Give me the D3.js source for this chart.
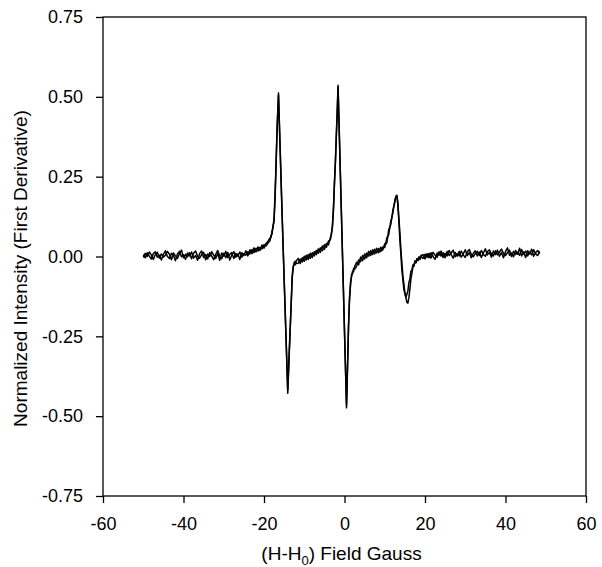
<!DOCTYPE html>
<html>
<head>
<meta charset="utf-8">
<script src="https://cdn.jsdelivr.net/npm/d3@7"></script>
<style>
body { margin: 0; background: #fff; }
svg text { font-family: "Liberation Sans", Arial, Helvetica, sans-serif; fill: #000; }
</style>
</head>
<body>
<div id="chart"></div>
<script>
//////////////////////////////////////////////////////////////////////////////
// Data (field in Gauss, two overlaid traces)

var field = [
    -50,-49.5,-49,-48.5,-48,-47.5,-47,-46.5,-46,-45.5,
    -45,-44.5,-44,-43.5,-43,-42.5,-42,-41.5,-41,-40.5,
    -40,-39.5,-39,-38.5,-38,-37.5,-37,-36.5,-36,-35.5,
    -35,-34.5,-34,-33.5,-33,-32.5,-32,-31.5,-31,-30.5,
    -30,-29.5,-29,-28.5,-28,-27.5,-27,-26.5,-26,-25.5,
    -25,-24.5,-24,-23.5,-23,-22.5,-22,-21.5,-21,-20.5,
    -20,-19.5,-19,
    // low field line
    -18.5,-18.25,-18,-17.75,-17.5,-17.25,-17,-16.75,-16.4,-16,-15.5,-15,-14.5,-14.1,
    -13.75,-13.5,-13.25,-13,-12.75,-12.5,-12.25,-12,
    -11.5,-11,-10.5,-10,-9.5,-9,-8.5,-8,-7.5,-7,-6.5,-6,-5.5,-5,-4.5,-4,
    // centre line
    -3.5,-3.25,-3,-2.75,-2.5,-2.25,-2,-1.8,-1.6,-1.25,-1,-0.75,-0.5,-0.25,0,
    0.25,0.5,0.75,1,1.25,1.5,1.75,2,2.25,2.5,
    3,3.5,4,4.5,5,5.5,6,6.5,7,7.5,8,8.5,9,9.5,
    // high field line
    10,10.25,10.5,10.75,11,11.25,11.5,11.75,12,12.25,12.5,12.75,13,13.25,13.5,13.75,
    14,14.25,14.5,14.75,15,15.25,15.5,15.75,16,16.25,16.5,16.75,17,17.25,17.5,17.75,
    18,18.25,18.5,18.75,19,
    19.5,20,20.5,21,21.5,22,22.5,23,23.5,24,
    24.5,25,25.5,26,26.5,27,27.5,28,28.5,29,
    29.5,30,30.5,31,31.5,32,32.5,33,33.5,34,
    34.5,35,35.5,36,36.5,37,37.5,38,38.5,39,
    39.5,40,40.5,41,41.5,42,42.5,43,43.5,44,
    44.5,45,45.5,46,46.5,47,47.5,48,48.5
];

var traceA = [
    0.006,-0.004,0.012,0.001,-0.008,0.009,0.015,-0.002,0.004,-0.011,
    0.007,0.018,0.000,-0.006,0.010,0.003,-0.013,0.008,0.016,-0.001,
    0.005,-0.009,0.011,0.002,0.014,-0.005,0.003,-0.012,0.009,0.017,
    -0.003,0.006,-0.008,0.012,0.001,-0.010,0.007,0.019,0.002,-0.007,
    0.010,-0.004,0.013,-0.011,0.005,0.015,-0.002,0.008,-0.009,0.012,
    0.003,0.018,0.002,0.021,0.009,0.027,0.014,0.030,0.019,0.036,
    0.026,0.041,0.048,
    0.058,0.060,0.081,0.090,0.122,0.195,0.292,0.402,0.512,0.338,0.128,-0.072,-0.268,-0.428,
    -0.312,-0.232,-0.152,-0.068,-0.038,-0.018,-0.026,-0.014,
    -0.006,-0.022,-0.004,-0.015,0.004,-0.009,0.010,-0.003,0.015,0.006,0.024,0.013,0.033,0.022,0.041,0.036,
    0.060,0.068,0.098,0.152,0.232,0.303,0.392,0.462,0.536,0.362,0.242,0.122,0.002,-0.118,-0.238,
    -0.356,-0.474,-0.352,-0.222,-0.128,-0.080,-0.064,-0.046,-0.048,-0.032,
    -0.018,-0.026,-0.002,-0.013,0.008,-0.004,0.016,0.003,0.021,0.008,0.026,0.012,0.029,0.020,
    0.040,0.038,0.058,0.063,0.085,0.090,0.111,0.119,0.144,0.155,0.176,0.186,0.192,0.160,0.112,0.053,
    0.008,-0.042,-0.072,-0.103,-0.115,-0.128,-0.118,-0.108,-0.082,-0.070,-0.046,-0.042,-0.026,-0.029,-0.013,-0.020,
    -0.006,-0.013,-0.001,-0.009,0.003,
    0.006,-0.008,0.009,-0.004,0.012,0.000,-0.009,0.011,0.004,0.017,
    -0.003,0.010,0.002,0.019,0.006,-0.005,0.013,0.001,0.016,-0.002,
    0.008,0.021,0.003,0.012,-0.004,0.010,0.018,0.002,0.014,-0.003,
    0.011,0.024,0.005,0.013,-0.002,0.017,0.006,0.020,0.001,0.012,
    -0.004,0.015,0.027,0.004,0.011,-0.001,0.019,0.007,0.026,0.002,
    0.014,-0.003,0.018,0.008,0.023,0.001,0.012,0.019,0.009
];

var traceB = [
    -0.003,0.010,0.000,0.014,0.005,-0.009,0.006,0.013,-0.005,0.008,
    -0.002,0.004,0.016,0.007,-0.010,0.011,0.002,-0.006,0.009,0.020,
    -0.004,0.007,-0.001,0.012,-0.007,0.010,0.017,0.001,-0.005,0.006,
    0.013,-0.010,0.008,0.000,0.015,0.004,-0.006,0.009,-0.012,0.011,
    0.001,0.016,-0.003,0.007,0.012,-0.006,0.010,0.001,0.014,-0.002,
    0.009,0.004,0.015,0.008,0.022,0.012,0.026,0.017,0.029,0.024,
    0.037,0.033,0.042,
    0.050,0.066,0.070,0.098,0.108,0.182,0.285,0.396,0.505,0.345,0.135,-0.065,-0.262,-0.418,
    -0.305,-0.225,-0.148,-0.062,-0.030,-0.026,-0.015,-0.022,
    -0.021,-0.008,-0.017,0.001,-0.011,0.006,-0.006,0.012,0.002,0.019,0.010,0.027,0.018,0.037,0.029,0.048,
    0.052,0.074,0.090,0.142,0.224,0.296,0.385,0.455,0.530,0.370,0.250,0.130,0.010,-0.110,-0.230,
    -0.350,-0.466,-0.345,-0.215,-0.135,-0.090,-0.056,-0.054,-0.038,-0.040,
    -0.031,-0.011,-0.016,0.003,-0.008,0.011,0.001,0.018,0.006,0.023,0.011,0.025,0.015,0.030,
    0.028,0.043,0.042,0.062,0.069,0.092,0.100,0.123,0.135,0.159,0.169,0.188,0.190,0.172,0.123,0.077,
    0.023,-0.018,-0.060,-0.086,-0.114,-0.128,-0.144,-0.146,-0.128,-0.102,-0.070,-0.053,-0.033,-0.030,-0.016,-0.019,
    -0.008,-0.012,-0.003,-0.008,0.001,
    -0.006,0.007,-0.003,0.010,-0.005,0.013,0.004,-0.002,0.015,0.001,
    0.012,-0.004,0.016,0.003,0.011,0.020,-0.001,0.009,0.002,0.017,
    0.005,-0.003,0.014,0.022,0.007,-0.001,0.009,0.016,0.003,0.019,
    0.006,0.001,0.015,0.021,0.008,0.002,0.018,0.005,0.014,0.023,
    0.009,0.003,0.012,0.020,0.000,0.016,0.006,0.013,0.004,0.022,
    0.007,0.017,0.002,0.014,0.005,0.021,0.008,0.003,0.016
];

var xTicks = [-60, -40, -20, 0, 20, 40, 60];
var yTicks = [-0.75, -0.50, -0.25, 0.00, 0.25, 0.50, 0.75];

//////////////////////////////////////////////////////////////////////////////

var svgWidth = 602, svgHeight = 567;
var margin = {left: 103, top: 17, right: 16, bottom: 71};
var plotW = svgWidth - margin.left - margin.right;
var plotH = svgHeight - margin.top - margin.bottom;

var xScale = d3.scaleLinear().domain([-60, 60]).range([0, plotW]);
var yScale = d3.scaleLinear().domain([-0.75, 0.75]).range([plotH, 0]);

if (traceA.length !== field.length || traceB.length !== field.length)
    console.log("length mismatch", field.length, traceA.length, traceB.length);

var svg = d3.select("#chart")
    .append("svg")
    .attr("width", svgWidth)
    .attr("height", svgHeight);

var g = svg.append("g")
    .attr("transform", "translate(" + margin.left + "," + margin.top + ")");

var line = d3.line()
    .x(function(d, i) { return xScale(field[i]); })
    .y(function(d) { return yScale(d); });

g.selectAll("path.trace")
    .data([traceA, traceB])
    .enter()
    .append("path")
    .attr("class", "trace")
    .attr("d", line)
    .attr("fill", "none")
    .attr("stroke", "#000")
    .attr("stroke-width", 1.5)
    .attr("stroke-linejoin", "round");

// frame (top and right have no ticks)
g.append("rect")
    .attr("x", 0).attr("y", 0)
    .attr("width", plotW).attr("height", plotH)
    .attr("fill", "none")
    .attr("stroke", "#000")
    .attr("stroke-width", 1.3);

// plain hyphen for negatives, like the original
var xAxis = d3.axisBottom(xScale)
    .tickValues(xTicks)
    .tickSizeInner(7).tickSizeOuter(0).tickPadding(14)
    .tickFormat(function(d) { return String(d); });

var yAxis = d3.axisLeft(yScale)
    .tickValues(yTicks)
    .tickSizeInner(7).tickSizeOuter(0).tickPadding(13)
    .tickFormat(function(d) { return d.toFixed(2); });

function styleAxis(sel)
{
    sel.select(".domain").remove();
    sel.selectAll(".tick line").attr("stroke", "#000").attr("stroke-width", 1.3);
    sel.selectAll(".tick text")
        .style("font-family", "'Liberation Sans', Arial, sans-serif")
        .style("font-size", "18px")
        .attr("fill", "#000");
    return sel;
}

g.append("g")
    .attr("transform", "translate(0," + plotH + ")")
    .call(xAxis)
    .call(styleAxis);

g.append("g")
    .call(yAxis)
    .call(styleAxis);

// axis titles
var xTitle = svg.append("text")
    .attr("x", margin.left + xScale(0) - 3)
    .attr("y", 560)
    .attr("text-anchor", "middle")
    .style("font-size", "19px");
xTitle.append("tspan").text("(H-H");
xTitle.append("tspan").text("0").attr("dy", 5).style("font-size", "13px");
xTitle.append("tspan").text(") Field Gauss").attr("dy", -5);

svg.append("text")
    .attr("transform", "translate(27," + (margin.top + plotH / 2 + 12) + ") rotate(-90)")
    .attr("text-anchor", "middle")
    .style("font-size", "19px")
    .text("Normalized Intensity (First Derivative)");
</script>
</body>
</html>
